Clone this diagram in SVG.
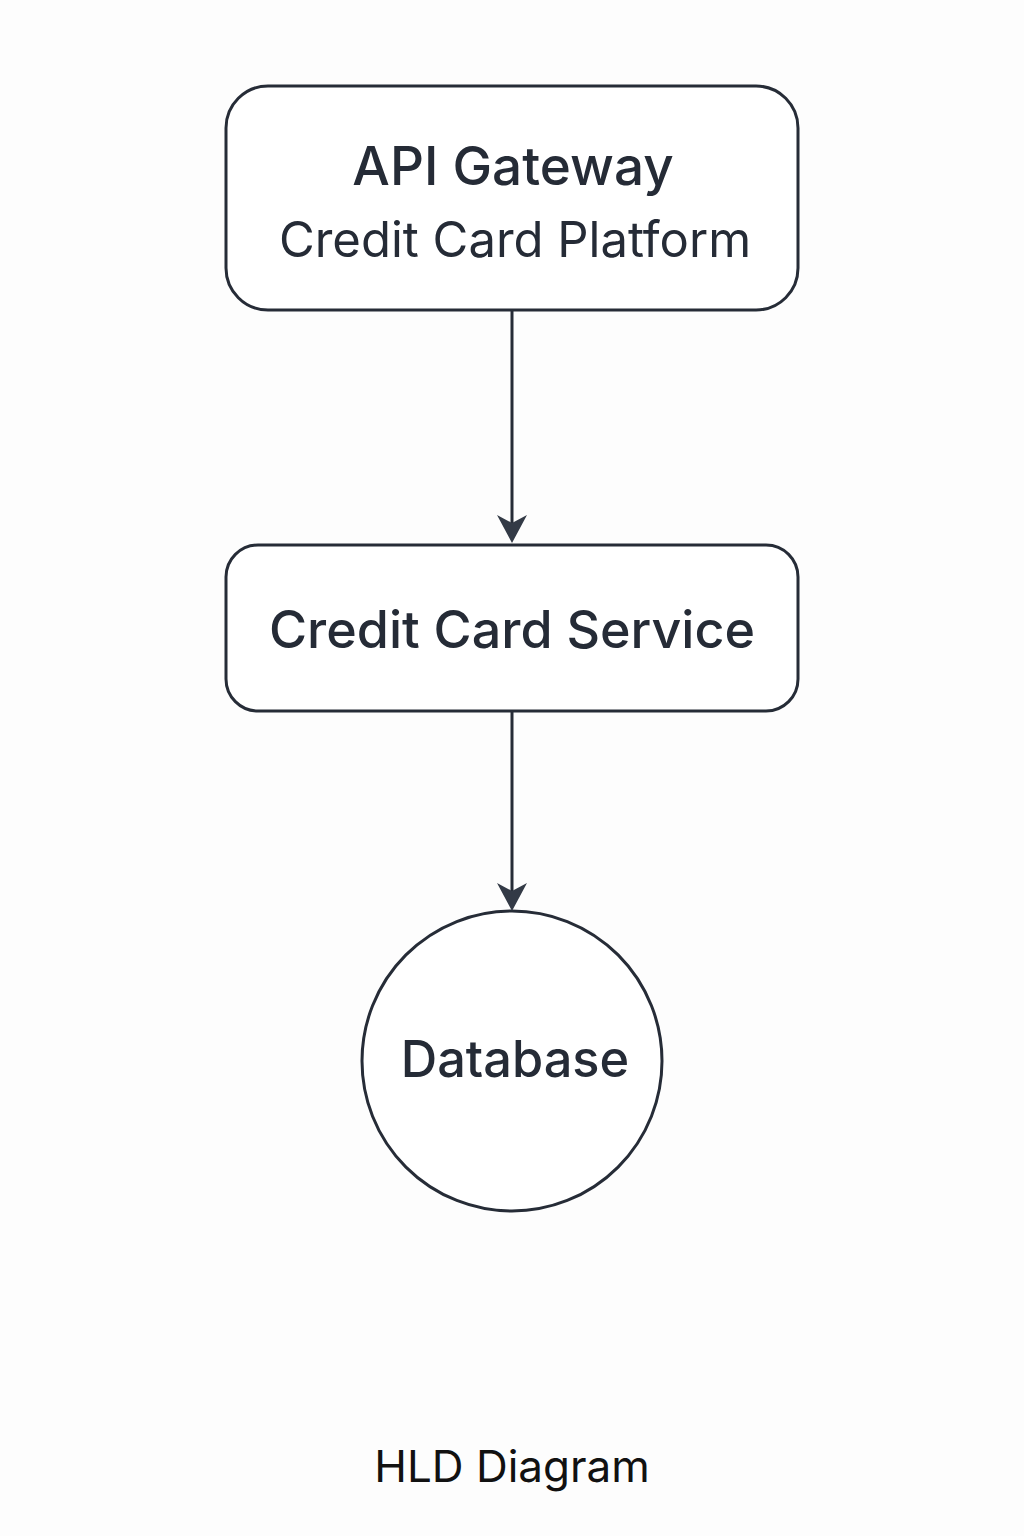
<svg xmlns="http://www.w3.org/2000/svg" width="1024" height="1536" viewBox="0 0 1024 1536">
<defs>
<style>
.node{fill:#ffffff;stroke:#262c37;stroke-width:3}
.edge{stroke:#262c37;stroke-width:3;fill:none}
.head{fill:#333a46}
.t{font-family:Inter,"Noto Sans","Liberation Sans",sans-serif;fill:#252b36;text-anchor:middle}
.b{font-weight:500}
</style>
</defs>
<rect width="1024" height="1536" fill="#fdfdfd"/>
<g id="api-gateway">
<rect class="node" x="226" y="86" width="572" height="224" rx="42"/>
<text class="t b" x="513" y="185" font-size="53">API Gateway</text>
<text class="t" x="515" y="257" font-size="49">Credit Card Platform</text>
</g>
<g id="credit-card-service">
<rect class="node" x="226" y="545" width="572" height="166" rx="32"/>
<text class="t b" x="512" y="648" font-size="52">Credit Card Service</text>
</g>
<g id="database">
<circle class="node" cx="512" cy="1061" r="150"/>
<text class="t b" x="515" y="1077" font-size="50.5">Database</text>
</g>
<g id="connectors">
<line class="edge" x1="512" y1="310" x2="512" y2="530"/>
<path class="head" d="M497,515 L512,543 L527,515 L512,523 Z"/>
<line class="edge" x1="512" y1="711" x2="512" y2="895"/>
<path class="head" d="M497,883 L512,911 L527,883 L512,891 Z"/>
</g>
<text class="t" x="512" y="1482" font-size="44" style="fill:#111">HLD Diagram</text>
</svg>
